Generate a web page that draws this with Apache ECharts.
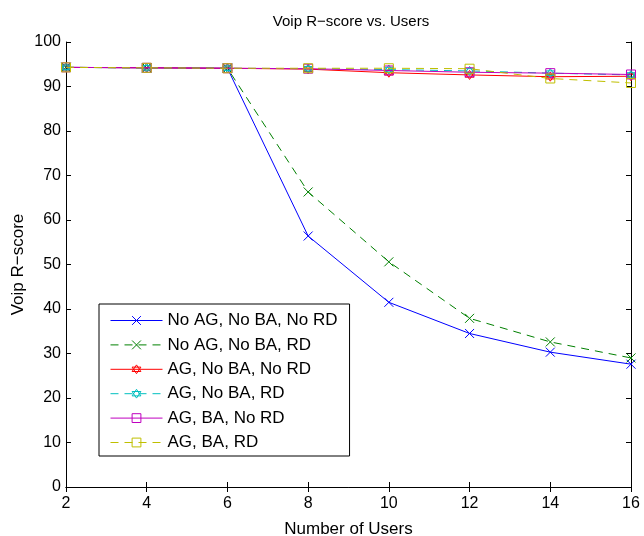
<!DOCTYPE html>
<html><head><meta charset="utf-8">
<script src="https://cdn.jsdelivr.net/npm/echarts@6/dist/echarts.min.js"></script>
<style>html,body{margin:0;padding:0;background:#fff}#c{width:644px;height:536px}</style>
</head><body><div id="c"></div>
<script>
const users = [2, 4, 6, 8, 10, 12, 14, 16];
const noAgNoBaNoRd = [94.3, 94.2, 94.1, 56.4, 41.5, 34.5, 30.3, 27.6];
const noAgNoBaRd   = [94.3, 94.2, 94.1, 66.3, 50.6, 37.9, 32.6, 29.0];
const agNoBaNoRd   = [94.3, 94.2, 94.1, 93.9, 93.1, 92.6, 92.2, 92.3];
const agNoBaRd     = [94.3, 94.2, 94.1, 94.0, 93.8, 93.5, 93.0, 92.6];
const agBaNoRd     = [94.3, 94.2, 94.1, 94.0, 93.6, 93.2, 93.0, 92.7];
const agBaRd       = [94.3, 94.2, 94.1, 94.1, 94.1, 94.0, 91.8, 90.8];
const names = ['No AG, No BA, No RD','No AG, No BA, RD','AG, No BA, No RD','AG, No BA, RD','AG, BA, No RD','AG, BA, RD'];
const seriesData = [noAgNoBaNoRd, noAgNoBaRd, agNoBaNoRd, agNoBaRd, agBaNoRd, agBaRd];
const colors = ['#0000ff','#008000','#ff0000','#00bfbf','#bf00bf','#bfbf00'];
const xSym = 'path://M0,0L10,10M10,0L0,10';
const hexSym = 'path://M5,0L9.33,7.5L0.67,7.5ZM5,10L0.67,2.5L9.33,2.5Z';
const sqSym = 'path://M0,0L10,0L10,10L0,10Z';
const symbols = [xSym, xSym, hexSym, hexSym, sqSym, sqSym];
const dashed = [false, true, false, true, false, true];
const font = 'Liberation Sans, Arial, Helvetica, sans-serif';
const dashPattern = [8, 6];

const chart = echarts.init(document.getElementById('c'), null, {renderer:'canvas'});
const series = names.map((n, i) => ({
  name: n,
  type: 'line',
  color: colors[i],
  data: users.map((u, k) => [u, seriesData[i][k]]),
  symbol: symbols[i],
  symbolSize: 9,
  showAllSymbol: true,
  lineStyle: {color: colors[i], width: 1, type: dashed[i] ? dashPattern : 'solid'},
  itemStyle: {color: 'rgba(0,0,0,0)', borderColor: colors[i], borderWidth: 1},
  emphasis: {disabled: true},
  animation: false,
  z: 2 + i
}));

const axisCommon = {
  axisLine: {lineStyle: {color: '#000', width: 1}},
  axisTick: {inside: true, length: 5, lineStyle: {color: '#000'}},
  splitLine: {show: false}
};

chart.setOption({
  animation: false,
  backgroundColor: '#fff',
  title: {
    text: 'Voip R\u2212score vs. Users', left: 346, top: 9, textAlign: 'center',
    textStyle: {fontFamily: font, fontSize: 15, fontWeight: 'normal', color: '#000'}
  },
  grid: {left: 66, right: 13, top: 42, bottom: 49, show: false, containLabel: false, outerBoundsMode: 'none'},
  legend: {
    orient: 'vertical', left: 99, top: 304,
    padding: [8, 12, 5, 11],
    backgroundColor: '#fff', borderColor: '#000', borderWidth: 1,
    itemWidth: 52, itemHeight: 11, itemGap: 7.4,
    itemStyle: {color: 'rgba(0,0,0,0)', borderWidth: 1},
    lineStyle: {width: 1},
    textStyle: {fontFamily: font, fontSize: 17, lineHeight: 14, color: '#000', padding: [0, 0, 0, 0]},
    data: names
  },
  xAxis: [
    Object.assign({
      type: 'value', min: 2, max: 16, interval: 2, position: 'bottom',
      name: 'Number of Users', nameLocation: 'middle', nameGap: 34,
      nameTextStyle: {fontFamily: font, fontSize: 17, color: '#000'},
      axisLabel: {fontFamily: font, fontSize: 16, color: '#000', margin: 9}
    }, axisCommon),
    Object.assign({
      type: 'value', min: 2, max: 16, interval: 2, position: 'top',
      axisLabel: {show: false}
    }, axisCommon)
  ],
  yAxis: [
    Object.assign({
      type: 'value', min: 0, max: 100, interval: 10, position: 'left',
      name: 'Voip R\u2212score', nameLocation: 'middle', nameGap: 39, nameMoveOverlap: false,
      nameTextStyle: {fontFamily: font, fontSize: 17, color: '#000'},
      axisLabel: {fontFamily: font, fontSize: 16, color: '#000', margin: 5}
    }, axisCommon),
    Object.assign({
      type: 'value', min: 0, max: 100, interval: 10, position: 'right',
      axisLabel: {show: false}
    }, axisCommon)
  ],
  series: series
});
</script></body></html>
